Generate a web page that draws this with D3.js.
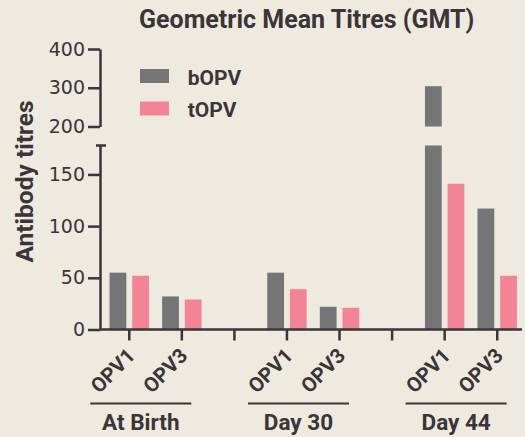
<!DOCTYPE html>
<html>
<head>
<meta charset="utf-8">
<script src="https://cdn.jsdelivr.net/npm/d3@7"></script>
<style>
  body { margin: 0; background: #eeeae0; }
  .txt { font-family: Roboto, "DejaVu Sans", sans-serif; font-weight: bold; fill: #3a3538; }
  .tick text { font-family: "DejaVu Sans", sans-serif; font-size: 19px; fill: #3a3538; }
</style>
</head>
<body>
<div id="mainContainer"></div>
<script>

// data
var groups = ["At Birth", "Day 30", "Day 44"];
var doses = ["OPV1", "OPV3"];
var series = ["bOPV", "tOPV"];
var bOPV = [55, 32, 55, 22, 304, 117];
var tOPV = [52, 29, 39, 21, 141, 52];
var lowTicks = [0, 50, 100, 150];
var highTicks = [200, 300, 400];

var colors = {bOPV: "#757477", tOPV: "#f38496"};
var axisCol = "#3a3538";

var width = 525, height = 437;

var svg = d3.select("#mainContainer")
  .append("svg")
  .attr("width", width)
  .attr("height", height);

svg.append("rect")
  .attr("width", width)
  .attr("height", height)
  .attr("fill", "#eeeae0");

// slots: two doses per group, an empty slot between groups
var slots = [];
var rows = [];
groups.forEach(function(g, gi) {
  if (gi > 0) slots.push("gap" + gi);
  doses.forEach(function(d, di) {
    var key = g + "|" + d;
    slots.push(key);
    var i = gi * doses.length + di;
    rows.push({key: key, group: g, dose: d, bOPV: bOPV[i], tOPV: tOPV[i]});
  });
});

var x = d3.scaleBand().domain(slots).range([103, 523.5]);
var inner = d3.scaleBand().domain(series).range([0, x.bandwidth()])
  .paddingInner(0.26).paddingOuter(0.29);

// broken y axis
var lowMax = 178;
var yLow = d3.scaleLinear().domain([0, lowMax]).range([329.5, 145.5]);
var yHigh = d3.scaleLinear().domain([200, 400]).range([126.5, 49]);

var bars = [];
rows.forEach(function(r) {
  series.forEach(function(s) {
    bars.push({key: r.key, s: s, v: r[s]});
  });
});

var barG = svg.append("g");
barG.selectAll("rect.low")
  .data(bars)
  .enter().append("rect")
  .attr("class", "low")
  .attr("x", function(d) { return x(d.key) + inner(d.s); })
  .attr("width", inner.bandwidth())
  .attr("y", function(d) { return yLow(Math.min(d.v, lowMax)); })
  .attr("height", function(d) { return yLow(0) - yLow(Math.min(d.v, lowMax)); })
  .attr("fill", function(d) { return colors[d.s]; });

barG.selectAll("rect.high")
  .data(bars.filter(function(d) { return d.v > 200; }))
  .enter().append("rect")
  .attr("class", "high")
  .attr("x", function(d) { return x(d.key) + inner(d.s); })
  .attr("width", inner.bandwidth())
  .attr("y", function(d) { return yHigh(d.v); })
  .attr("height", function(d) { return yHigh(200) - yHigh(d.v); })
  .attr("fill", function(d) { return colors[d.s]; });

function styleAxis(g) {
  g.selectAll("path, line").attr("stroke", axisCol).attr("stroke-width", 2.5);
}

svg.append("g")
  .attr("transform", "translate(100,0)")
  .call(d3.axisLeft(yLow).tickValues(lowTicks).tickSize(12).tickPadding(3).tickSizeOuter(0))
  .call(styleAxis);

svg.append("g")
  .attr("transform", "translate(100,0)")
  .call(d3.axisLeft(yHigh).tickValues(highTicks).tickSize(12).tickPadding(3).tickSizeOuter(0))
  .call(styleAxis);

// little cap at top of the lower segment
svg.append("line")
  .attr("x1", 96).attr("x2", 106)
  .attr("y1", yLow(lowMax)).attr("y2", yLow(lowMax))
  .attr("stroke", axisCol).attr("stroke-width", 2.5);

// x axis
var xAxis = svg.append("g")
  .attr("transform", "translate(0," + yLow(0) + ")")
  .call(d3.axisBottom(x).tickSize(11).tickSizeOuter(0).tickFormat(""))
  .call(styleAxis);
xAxis.select(".domain").remove();
xAxis.append("line")
  .attr("x1", 100).attr("x2", 522)
  .attr("stroke", axisCol).attr("stroke-width", 2.5);

// rotated dose labels
svg.append("g").selectAll("text")
  .data(rows)
  .enter().append("text")
  .attr("class", "txt")
  .attr("text-anchor", "end")
  .style("font-size", "20.5px")
  .attr("transform", function(d) {
    return "translate(" + (x(d.key) + x.bandwidth() / 2 + 7) + ",357) rotate(-45)";
  })
  .text(function(d) { return d.dose; });

// group lines + labels
var grp = svg.append("g").selectAll("g")
  .data(groups)
  .enter().append("g");

function groupStart(g) { return x(g + "|" + doses[0]) + x.bandwidth() / 2 - 39; }

grp.append("line")
  .attr("x1", function(g) { return groupStart(g); })
  .attr("x2", function(g) { return groupStart(g) + 101; })
  .attr("y1", 403.5).attr("y2", 403.5)
  .attr("stroke", axisCol).attr("stroke-width", 2);

grp.append("text")
  .attr("class", "txt")
  .attr("text-anchor", "middle")
  .style("font-size", "22.5px")
  .attr("x", function(g) { return groupStart(g) + 50.5; })
  .attr("y", 430)
  .text(function(g) { return g; });

// title, y label
svg.append("text")
  .attr("class", "txt")
  .attr("text-anchor", "middle")
  .style("font-size", "25px")
  .attr("x", 306.7).attr("y", 27.5)
  .text("Geometric Mean Titres (GMT)");

svg.append("text")
  .attr("class", "txt")
  .attr("text-anchor", "middle")
  .style("font-size", "24.5px")
  .attr("transform", "translate(33,181.5) rotate(-90)")
  .text("Antibody titres");

// legend
var leg = svg.append("g").selectAll("g")
  .data(series)
  .enter().append("g")
  .attr("transform", function(d, i) { return "translate(140," + (69 + i * 32.5) + ")"; });

leg.append("rect")
  .attr("width", 29).attr("height", 14)
  .attr("fill", function(d) { return colors[d]; });

leg.append("text")
  .attr("class", "txt")
  .style("font-size", "21px")
  .attr("x", 47.7).attr("y", 15.5)
  .text(function(d) { return d; });

</script>
</body>
</html>
